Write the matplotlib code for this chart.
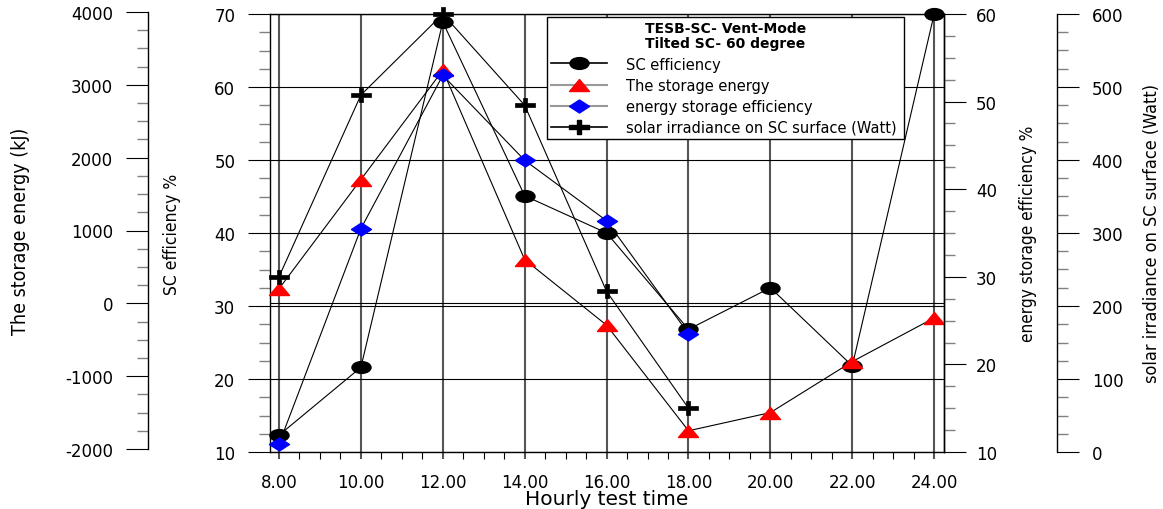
import numpy as np
import matplotlib
matplotlib.use("Agg")
import matplotlib.pyplot as plt
from matplotlib.path import Path
from matplotlib.lines import Line2D
from matplotlib.ticker import MultipleLocator, FormatStrFormatter

plt.rcParams["axes.unicode_minus"] = False

# hourly readings
hours = [8, 10, 12, 14, 16, 18, 20, 22, 24]
sc_efficiency = [12.3, 21.6, 68.9, 45.1, 40.0, 26.8, 32.5, 21.8, 70.0]
storage_energy = [200, 1700, 3200, 600, -300, -1750, -1500, -800, -200]

day_hours = [8, 10, 12, 14, 16, 18]
storage_efficiency = [10.9, 35.5, 53.0, 43.3, 36.4, 23.5]
solar_irradiance = [240, 489, 600, 475, 220, 60]

labels = ["SC efficiency", "The storage energy", "energy storage efficiency",
          "solar irradiance on SC surface (Watt)"]
legend_title = "TESB-SC- Vent-Mode\nTilted SC- 60 degree"

NARROW = ["Liberation Sans Narrow", "DejaVu Sans"]
TICK_FS = 12
W, H = 1163, 510


def closed(verts):
    verts = list(verts) + [verts[0]]
    return Path(np.array(verts, dtype=float), closed=True)


# flattened marker shapes
circle = Path.unit_circle()
ellipse = Path(circle.vertices * [1.0, 0.62], circle.codes)
triangle = closed([(0, 0.6), (-1, -0.6), (1, -0.6)])
diamond = closed([(0, 0.65), (1, 0), (0, -0.65), (-1, 0)])
w, h, v = 0.2, 0.19, 0.65
plus = closed([(-1, -h), (-w, -h), (-w, -v), (w, -v), (w, -h), (1, -h),
               (1, h), (w, h), (w, v), (-w, v), (-w, h), (-1, h)])

fig = plt.figure(figsize=(W / 100, H / 100), dpi=100)
ax = fig.add_axes([270 / W, 1 - 453 / H, 674 / W, 438 / H])
# storage energy scale sits a couple of pixels higher than the others
ax_e = fig.add_axes([270 / W, 1 - 450 / H, 674 / W, 437 / H], sharex=ax)
ax_e.patch.set_visible(False)
ax_e.xaxis.set_visible(False)
ax_r = ax.twinx()
ax_s = ax.twinx()

# main axes: hours vs SC efficiency
ax.set_xlim(7.78, 24.24)
ax.set_ylim(10, 70)
ax.xaxis.set_major_locator(MultipleLocator(2))
ax.xaxis.set_minor_locator(MultipleLocator(0.5))
ax.xaxis.set_major_formatter(FormatStrFormatter("%.2f"))
ax.yaxis.set_major_locator(MultipleLocator(10))
ax.yaxis.set_minor_locator(MultipleLocator(2.5))
ax.grid(axis="x", which="major", color="#555555", lw=1.5)
ax.grid(axis="y", which="major", color="black", lw=0.8)
ax.tick_params(axis="x", which="major", direction="out", length=5, width=1.5,
               color="#555555", pad=10, labelsize=TICK_FS)
ax.tick_params(axis="x", which="minor", direction="out", length=5, width=0.8,
               color="black")
ax.tick_params(axis="y", which="major", direction="out", length=16, width=0.8,
               color="black", pad=9, labelsize=TICK_FS)
ax.tick_params(axis="y", which="minor", direction="out", length=8, width=1,
               color="#808080")
for s in ax.spines.values():
    s.set_linewidth(1.0)
ax.set_xlabel("Hourly test time", fontsize=14.5)
ax.xaxis.set_label_coords(0.5, (453 - 500) / 438)
ax.xaxis.label.set_va("center")
ax.set_ylabel("SC efficiency %", fontsize=12.5, family=NARROW,
              fontstretch="condensed")
ax.yaxis.set_label_coords((172 - 270) / 674, 0.5)
ax.yaxis.label.set_va("center")


def side_axis(a, side, pos, lo, hi, major, minor, label, lx, fs, pad):
    for s in a.spines.values():
        s.set_visible(False)
    a.spines[side].set_visible(True)
    a.spines[side].set_position(("axes", pos))
    a.spines[side].set_linewidth(1.0)
    if side == "left":
        a.yaxis.tick_left()
        a.yaxis.set_label_position("left")
    a.set_ylim(lo, hi)
    a.yaxis.set_major_locator(MultipleLocator(major))
    a.yaxis.set_minor_locator(MultipleLocator(minor))
    a.tick_params(axis="y", which="major", direction="out", length=16,
                  width=0.8, color="black", pad=pad, labelsize=TICK_FS)
    a.tick_params(axis="y", which="minor", direction="out", length=8,
                  width=1, color="#808080")
    a.set_ylabel(label, fontsize=fs, family=NARROW, fontstretch="condensed")
    a.yaxis.set_label_coords((lx - 270) / 674, 0.5)
    a.yaxis.label.set_va("center")


side_axis(ax_e, "left", (148 - 270) / 674, -2000, 4000, 1000, 250,
          "The storage energy (kJ)", 21, 14, 9)
side_axis(ax_r, "right", 1.0, 10, 60, 10, 2.5,
          "energy storage efficiency %", 1028, 12.3, 7)
side_axis(ax_s, "right", (1057 - 270) / 674, 0, 600, 100, 25,
          "solar irradiance on SC surface (Watt)", 1152, 13, 9)

ax_e.axhline(0, color="black", lw=0.8, zorder=0)

ax.plot(hours, sc_efficiency, color="black", lw=0.8, marker=ellipse, ms=13.7,
        mfc="black", mec="black", clip_on=False, zorder=3)
ax_e.plot(hours, storage_energy, color="black", lw=0.8, marker=triangle,
          ms=14.4, mfc="red", mec="red", clip_on=False, zorder=3)
ax_r.plot(day_hours, storage_efficiency, color="black", lw=0.8, marker=diamond,
          ms=14.4, mfc="blue", mec="blue", clip_on=False, zorder=3)
ax_s.plot(day_hours, solar_irradiance, color="black", lw=0.8, marker=plus,
          ms=15, mfc="black", mec="black", mew=0.5, clip_on=False, zorder=3)

handles = [
    Line2D([], [], color="black", lw=1.2, marker=ellipse, ms=13.7,
           mfc="black", mec="black"),
    Line2D([], [], color="#999999", lw=1.5, marker=triangle, ms=14.4,
           mfc="red", mec="red"),
    Line2D([], [], color="#999999", lw=1.5, marker=diamond, ms=14.4,
           mfc="blue", mec="blue"),
    Line2D([], [], color="black", lw=1.2, marker=plus, ms=15,
           mfc="black", mec="black"),
]
leg = ax_s.legend(handles, labels, loc="upper left",
                  bbox_to_anchor=(547 / W, 1 - 138 / H, 357 / W, 120 / H),
                  bbox_transform=fig.transFigure, mode="expand",
                  borderaxespad=0, title=legend_title,
                  title_fontproperties={"weight": "bold", "size": 10},
                  fontsize=10.5, fancybox=False, edgecolor="black",
                  framealpha=1, handlelength=3.8, handletextpad=1.3,
                  labelspacing=0.42, borderpad=0.3)
leg.get_title().set_linespacing(1.1)
leg.get_frame().set_linewidth(1.0)

fig.savefig("out.png", dpi=100)
